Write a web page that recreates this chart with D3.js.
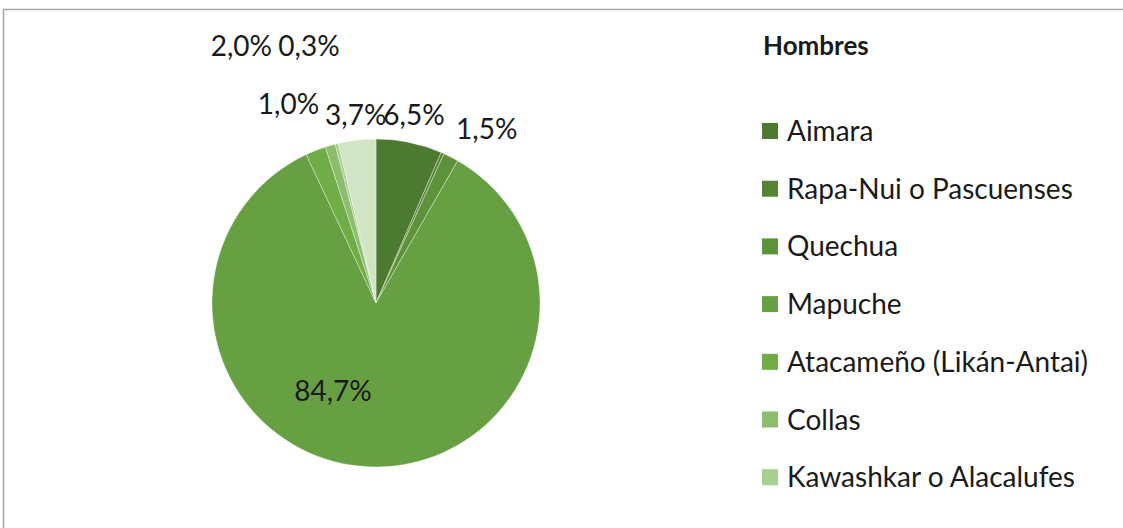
<!DOCTYPE html>
<html>
<head>
<meta charset="utf-8">
<script src="https://cdn.jsdelivr.net/npm/d3@7"></script>
<style>
  html, body { margin: 0; padding: 0; background: #fff; }
  svg { display: block; font-family: Lato, "Open Sans", sans-serif; }
</style>
</head>
<body>
<svg id="chart" width="1123" height="528"></svg>
<script>
// Share of indigenous men by people (percent)
const categories = [
  "Aimara",
  "Rapa-Nui o Pascuenses",
  "Quechua",
  "Mapuche",
  "Atacameño (Likán-Antai)",
  "Collas",
  "Kawashkar o Alacalufes",
  "Diaguita"
];
const values = [6.5, 0.3, 1.5, 84.7, 2.0, 1.0, 0.3, 3.7];
const colors = ["#4c7a30", "#558435", "#5e923a", "#67a042", "#70ad47", "#8cbd6c", "#a9cf8e", "#d2e4c6"];
const showLabel = [true, false, true, true, true, true, true, true];
const title = "Hombres";

// Label placement: shift of each value label from its slice's outer anchor
const labelShift = [[-1, 0], [0, 0], [23, -3], [0, 0], [-64, -79], [-34, -15], [-21, -71], [2, 3]];

const svg = d3.select("#chart");
const W = 1123, H = 528;

// chart frame (top and left edges visible)
svg.append("path")
  .attr("d", `M3.5,${H} V9.5 H${W}`)
  .attr("fill", "none")
  .attr("stroke", "#a6a6a6")
  .attr("stroke-width", 1.5);

const cx = 376, cy = 303, r = 164;
const g = svg.append("g").attr("transform", `translate(${cx},${cy})`);

const pie = d3.pie().sort(null).value(d => d.v);
const data = categories.map((c, i) => ({ c, v: values[i], i }));
const arcs = pie(data);
const arc = d3.arc().innerRadius(0).outerRadius(r);
const outerArc = d3.arc().innerRadius(r + 28).outerRadius(r + 28);
const innerArc = d3.arc().innerRadius(r * 0.6).outerRadius(r * 0.6);

g.selectAll("path.slice")
  .data(arcs)
  .join("path")
  .attr("class", "slice")
  .attr("d", arc)
  .attr("fill", d => colors[d.data.i])
  .attr("stroke", "rgba(255,255,255,0.45)")
  .attr("stroke-width", 0.8);

const fmt = v => d3.format(".1f")(v).replace(".", ",") + "%";

g.selectAll("text.val")
  .data(arcs.filter(d => showLabel[d.data.i]))
  .join("text")
  .attr("class", "val")
  .attr("transform", d => {
    const big = d.data.v > 50;
    const p = big ? innerArc.centroid(d) : outerArc.centroid(d);
    const s = big ? [-39, -10] : labelShift[d.data.i];
    return `translate(${p[0] + s[0]},${p[1] + s[1]})`;
  })
  .attr("text-anchor", "middle")
  .attr("dy", "0.36em")
  .attr("font-size", 28)
  .attr("fill", "#1a1a1a")
  .text(d => fmt(d.data.v));

// legend
svg.append("text")
  .attr("x", 763)
  .attr("y", 46)
  .attr("dy", "0.36em")
  .attr("font-size", 26)
  .attr("font-weight", "bold")
  .attr("fill", "#1a1a1a")
  .text(title);

// legend entries run down the right side; those past the bottom edge are left out
const ly = d3.scalePoint().domain(d3.range(categories.length)).range([131, 131 + 57.7 * (categories.length - 1)]);
const legendItems = data.filter(d => ly(d.i) + 20 < H);
const leg = svg.append("g").selectAll("g")
  .data(legendItems)
  .join("g")
  .attr("transform", d => `translate(762,${ly(d.i)})`);

leg.append("rect")
  .attr("x", 0).attr("y", -8)
  .attr("width", 16).attr("height", 16)
  .attr("fill", d => colors[d.i]);

leg.append("text")
  .attr("x", 25)
  .attr("dy", "0.36em")
  .attr("font-size", 28)
  .attr("fill", "#1a1a1a")
  .text(d => d.c);
</script>
</body>
</html>
